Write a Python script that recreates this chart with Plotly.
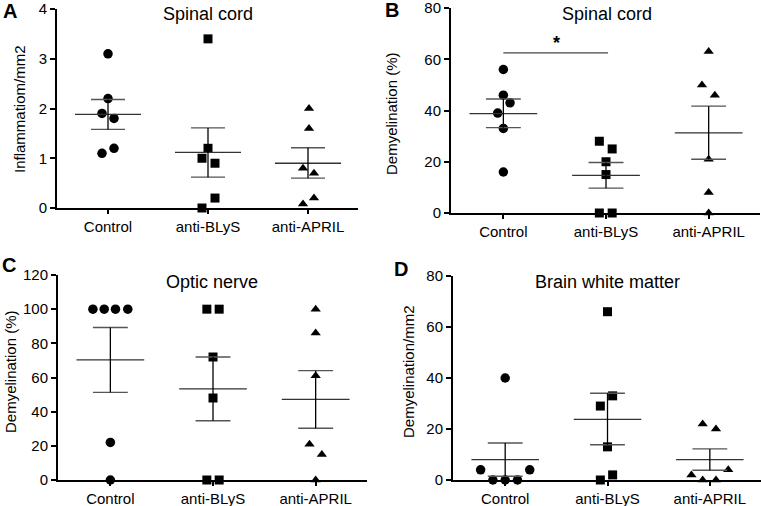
import plotly.graph_objects as go

# groups shared by every panel
groups = ["Control", "anti-BLyS", "anti-APRIL"]
symbols = ["circle", "square", "triangle-up"]

# panel A - spinal cord inflammation
a_control = [3.1, 2.2, 1.9, 1.8, 1.2, 1.1]
a_blys = [3.4, 1.2, 1.0, 0.9, 0.2, 0.0]
a_april = [2.0, 1.6, 0.8, 0.7, 0.2, 0.08]
a_mean = [1.88, 1.12, 0.90]
a_sem_hi = [2.18, 1.61, 1.21]
a_sem_lo = [1.58, 0.62, 0.60]

# panel B - spinal cord demyelination
b_control = [56, 46, 43, 39, 33, 16]
b_blys = [28, 25, 20, 15, 0, 0]
b_april = [63, 50, 46, 21, 8, 0]
b_mean = [38.8, 14.7, 31.3]
b_sem_hi = [44.5, 19.7, 41.7]
b_sem_lo = [33.3, 9.7, 21.0]
b_sig_level = 62.5

# panel C - optic nerve
c_control = [100, 100, 100, 100, 22, 0]
c_blys = [100, 100, 72, 48, 0, 0]
c_april = [100, 86, 61, 21, 15, 0]
c_mean = [70.3, 53.3, 47.2]
c_sem_hi = [89.3, 72.0, 64.0]
c_sem_lo = [51.3, 34.7, 30.3]

# panel D - brain white matter
d_control = [40, 4, 4, 0, 0, 0]
d_blys = [66, 33, 29, 13, 2, 0]
d_april = [22, 20, 4, 2, 0, 0]
d_mean = [8.0, 23.8, 8.0]
d_sem_hi = [14.5, 34.0, 12.2]
d_sem_lo = [1.5, 13.8, 3.8]

# horizontal scatter of the dots (category units)
a_jit = [[0, 0, -0.06, 0.06, 0.06, -0.06], [0, 0, -0.06, 0.07, 0.07, -0.06], [0.01, 0.01, -0.05, 0.06, 0.06, -0.05]]
b_jit = [[0, 0, 0.065, -0.055, 0, 0], [-0.065, 0.06, 0, 0, -0.065, 0.06], [0, -0.065, 0.06, 0, 0, 0]]
c_jit = [[-0.17, -0.06, 0.05, 0.17, 0, 0], [-0.06, 0.06, 0, 0, -0.06, 0.06], [0, 0, 0, -0.06, 0.06, 0]]
d_jit = [[0, -0.24, 0.24, -0.12, 0, 0.12], [0, 0.05, -0.07, 0, 0.05, -0.07], [-0.07, 0.06, 0.18, -0.18, -0.07, 0.06]]

W, H = 761, 506
FONT = "Liberation Sans, Arial, sans-serif"


def px(x):
    return x / W


def py(y):
    return 1 - y / H


panels = [
    dict(name="", data=[a_control, a_blys, a_april], jit=a_jit, mean=a_mean, hi=a_sem_hi, lo=a_sem_lo,
         yrange=[0, 4], dtick=1, xdom=[57, 358], ydom=[9, 208],
         title="Spinal cord", title_xy=(208, 14), ytitle="Inflammatiom/mm2", ytitle_xy=(20, 109),
         letter="A", letter_xy=(10, 11)),
    dict(name="2", data=[b_control, b_blys, b_april], jit=b_jit, mean=b_mean, hi=b_sem_hi, lo=b_sem_lo,
         yrange=[0, 80], dtick=20, xdom=[451, 760], ydom=[8, 213],
         title="Spinal cord", title_xy=(607, 14), ytitle="Demyelination (%)", ytitle_xy=(391, 114),
         letter="B", letter_xy=(392, 10)),
    dict(name="3", data=[c_control, c_blys, c_april], jit=c_jit, mean=c_mean, hi=c_sem_hi, lo=c_sem_lo,
         yrange=[0, 120], dtick=20, xdom=[58, 367], ydom=[275, 480],
         title="Optic nerve", title_xy=(212, 282), ytitle="Demyelination (%)", ytitle_xy=(10, 372),
         letter="C", letter_xy=(9, 265)),
    dict(name="4", data=[d_control, d_blys, d_april], jit=d_jit, mean=d_mean, hi=d_sem_hi, lo=d_sem_lo,
         yrange=[0, 80], dtick=20, xdom=[453, 761], ydom=[276, 480],
         title="Brain white matter", title_xy=(607, 282), ytitle="Demyelination/mm2", ytitle_xy=(408, 372),
         letter="D", letter_xy=(401, 269)),
]

fig = go.Figure()
annotations = []
MEAN_W, CAP_W = 0.33, 0.17

for p in panels:
    xa, ya = "x" + p["name"], "y" + p["name"]
    # the dots
    for i, vals in enumerate(p["data"]):
        fig.add_scatter(x=[i + j for j in p["jit"][i]], y=vals, xaxis=xa, yaxis=ya, mode="markers",
                        marker=dict(symbol=symbols[i], size=9 if i else 9.5, color="black"),
                        cliponaxis=False, showlegend=False, hoverinfo="y")
    # mean line, SEM caps and whisker
    mx, my, cx, cy, vx, vy = [], [], [], [], [], []
    for i in range(3):
        mx += [i - MEAN_W, i + MEAN_W, None]
        my += [p["mean"][i], p["mean"][i], None]
        cx += [i - CAP_W, i + CAP_W, None, i - CAP_W, i + CAP_W, None]
        cy += [p["hi"][i], p["hi"][i], None, p["lo"][i], p["lo"][i], None]
        vx += [i, i, None]
        vy += [p["lo"][i], p["hi"][i], None]
    fig.add_scatter(x=mx, y=my, xaxis=xa, yaxis=ya, mode="lines", line=dict(color="#333", width=1.3),
                    showlegend=False, hoverinfo="skip")
    fig.add_scatter(x=cx, y=cy, xaxis=xa, yaxis=ya, mode="lines", line=dict(color="#555", width=1.4),
                    showlegend=False, hoverinfo="skip")
    fig.add_scatter(x=vx, y=vy, xaxis=xa, yaxis=ya, mode="lines", line=dict(color="black", width=1.3),
                    showlegend=False, hoverinfo="skip")

    axis_x = dict(domain=[px(p["xdom"][0]), px(p["xdom"][1])], range=[-0.51, 2.5], anchor=ya,
                  tickvals=[0, 1, 2], ticktext=groups, showline=True, linecolor="black", linewidth=2,
                  ticks="outside", ticklen=4, tickwidth=1.5, tickcolor="black", showgrid=False,
                  zeroline=False, automargin=False, ticklabeloverflow="allow",
                  tickfont=dict(size=15, color="black", family=FONT))
    axis_y = dict(domain=[py(p["ydom"][1]), py(p["ydom"][0])], range=p["yrange"], dtick=p["dtick"],
                  anchor=xa, showline=True, linecolor="black", linewidth=2, ticks="outside", ticklen=5,
                  tickwidth=2, tickcolor="black", showgrid=False, zeroline=False, automargin=False,
                  ticklabeloverflow="allow", tickfont=dict(size=15, color="black", family=FONT))
    fig.update_layout(**{"xaxis" + p["name"]: axis_x, "yaxis" + p["name"]: axis_y})

    annotations.append(dict(text=p["title"], x=px(p["title_xy"][0]), y=py(p["title_xy"][1]), xref="paper",
                            yref="paper", xanchor="center", yanchor="middle", showarrow=False,
                            font=dict(size=18, color="black", family=FONT)))
    annotations.append(dict(text=p["ytitle"], x=px(p["ytitle_xy"][0]), y=py(p["ytitle_xy"][1]), xref="paper",
                            yref="paper", xanchor="center", yanchor="middle", textangle=-90, showarrow=False,
                            font=dict(size=15, color="black", family=FONT)))
    annotations.append(dict(text="<b>" + p["letter"] + "</b>", x=px(p["letter_xy"][0]), y=py(p["letter_xy"][1]),
                            xref="paper", yref="paper", xanchor="center", yanchor="middle", showarrow=False,
                            font=dict(size=20, color="black", family=FONT)))

# significance bar Control vs anti-BLyS in panel B
fig.add_scatter(x=[0, 1.02], y=[b_sig_level, b_sig_level], xaxis="x2", yaxis="y2", mode="lines",
                line=dict(color="#444", width=1.2), showlegend=False, hoverinfo="skip")
annotations.append(dict(text="<b>*</b>", x=0.52, y=b_sig_level, xref="x2", yref="y2", yanchor="bottom",
                        showarrow=False, yshift=-2, font=dict(size=18, color="black", family=FONT)))

fig.update_layout(width=W, height=H, margin=dict(l=0, r=0, t=0, b=0), plot_bgcolor="white",
                  paper_bgcolor="white", annotations=annotations, font=dict(family=FONT, color="black"))

# drop the browser's default 8px body margin so the figure sits at the window corner
fig.write_html("out.html", config={"displayModeBar": False},
               post_script="document.body.style.margin = '0';")
